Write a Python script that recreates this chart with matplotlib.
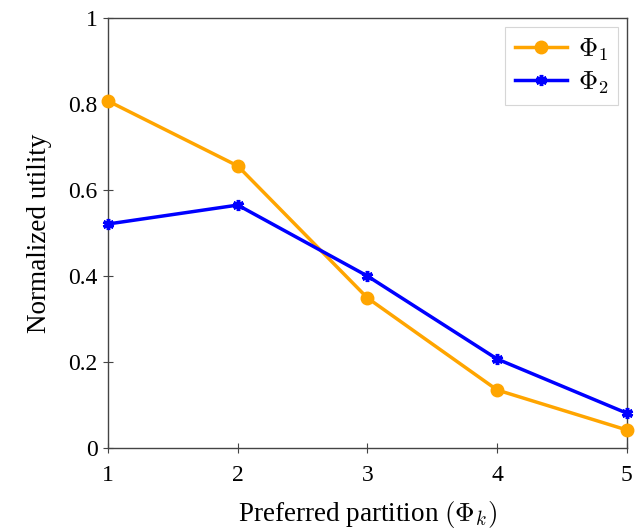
import matplotlib
matplotlib.use("Agg")
import matplotlib.pyplot as plt

# data
partitions = [1, 2, 3, 4, 5]
phi1 = [0.807, 0.656, 0.349, 0.135, 0.042]
phi2 = [0.521, 0.565, 0.400, 0.207, 0.081]
yticks = [0, 0.2, 0.4, 0.6, 0.8, 1]
ytick_labels = ["0", "0.2", "0.4", "0.6", "0.8", "1"]

plt.rcParams['font.family'] = ['Liberation Serif', 'DejaVu Serif']
plt.rcParams['mathtext.fontset'] = 'cm'
plt.rcParams['font.size'] = 16

fig = plt.figure(figsize=(6.41, 5.29), dpi=100)
ax = fig.add_axes([0.1685, 0.153, 0.8095, 0.813])

ax.plot(partitions, phi1, color='orange', lw=2.5, marker='o', ms=9,
        label=r'$\Phi_1$', clip_on=False, zorder=3)
ax.plot(partitions, phi2, color='blue', lw=2.5, marker=(6, 2, 0), ms=8,
        mew=2.5, label=r'$\Phi_2$', clip_on=False, zorder=3)

ax.set_xlim(1, 5)
ax.set_ylim(0, 1)
ax.set_xticks(partitions)
ax.set_yticks(yticks)
ax.set_yticklabels(ytick_labels)
ax.tick_params(direction='inout', length=7, width=0.8, colors='#444444',
               labelcolor='black', labelsize=17, pad=4)
ax.tick_params(axis='x', pad=9)
for s in ax.spines.values():
    s.set_color('#444444')
    s.set_linewidth(1.0)

ax.set_xlabel(r'Preferred partition $(\Phi_k)$', fontsize=19.5, labelpad=9)
ax.set_ylabel('Normalized utility', fontsize=19.5, labelpad=12)

leg = ax.legend(loc='upper right', fontsize=19, fancybox=False,
                borderaxespad=0.35, handlelength=2.0, labelspacing=0.25,
                borderpad=0.35, handletextpad=0.4)
leg.get_frame().set_edgecolor('#cccccc')
leg.get_frame().set_linewidth(0.8)

fig.savefig('out.png', dpi=100)
